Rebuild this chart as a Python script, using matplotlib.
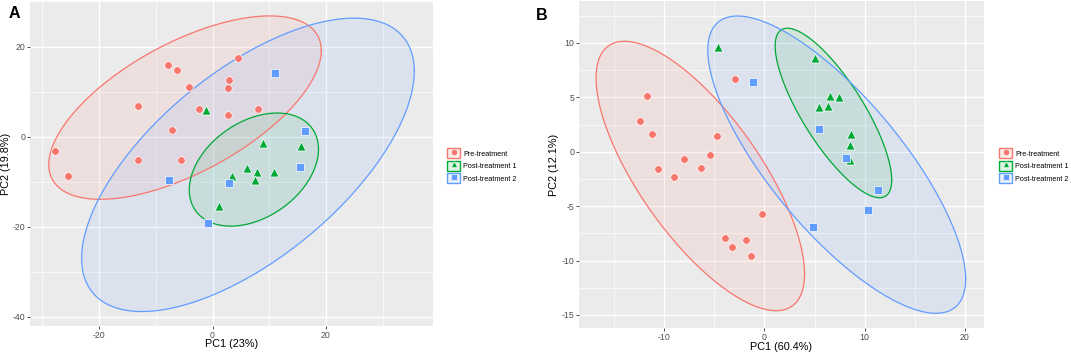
import numpy as np
import matplotlib
matplotlib.use("Agg")
import matplotlib.pyplot as plt
from matplotlib.lines import Line2D
from matplotlib.patches import Rectangle
from matplotlib.ticker import MultipleLocator

plt.rcParams["font.family"] = ["Liberation Sans", "DejaVu Sans"]
plt.rcParams["axes.unicode_minus"] = False

# ---------------- data ----------------
groups = ["Pre-treatment", "Post-treatment 1", "Post-treatment 2"]
colors = ["#F8766D", "#00A835", "#619CFF"]
markers = ["o", "^", "s"]

# Panel A
a_pre_x = [-27.8, -25.5, -7.8, -6.3, 4.5, 2.9, 2.7, -4.1, -13.1, -2.4, 8.1, 2.8, -7.2, -13.1, -5.5]
a_pre_y = [-3.2, -8.7, 16.0, 14.9, 17.4, 12.6, 10.9, 11.1, 6.7, 6.1, 6.1, 4.9, 1.4, -5.2, -5.1]
a_p1_x = [-1.2, 8.9, 15.6, 6.0, 7.8, 10.9, 3.5, 7.5, 1.2]
a_p1_y = [5.9, -1.3, -2.0, -6.9, -7.8, -7.9, -8.7, -9.7, -15.4]
a_p2_x = [11.0, 16.4, 15.4, 2.9, -7.7, -0.8]
a_p2_y = [14.1, 1.3, -6.7, -10.3, -9.5, -19.1]
# ellipses: centre x, centre y, var x, var y, cov xy  (red, green, blue)
a_ell_cx = [-4.85, 7.3, 6.25]
a_ell_cy = [6.45, -7.3, -6.25]
a_ell_sxx = [578.0, 130.0, 861.0]
a_ell_syy = [414.0, 157.5, 1059.0]
a_ell_sxy = [304.0, 51.5, 609.0]

# Panel B
b_pre_x = [-11.7, -12.4, -11.2, -10.6, -9.0, -8.0, -6.3, -5.4, -4.7, -2.9, -0.2, -3.9, -3.2, -1.8, -1.3]
b_pre_y = [5.1, 2.8, 1.6, -1.6, -2.3, -0.7, -1.5, -0.3, 1.4, 6.7, -5.7, -7.9, -8.8, -8.1, -9.6]
b_p1_x = [-4.6, 5.0, 6.5, 7.4, 5.4, 6.3, 8.6, 8.5, 8.5]
b_p1_y = [9.6, 8.6, 5.1, 5.0, 4.1, 4.2, 1.6, 0.6, -0.8]
b_p2_x = [-1.1, 5.4, 4.8, 8.1, 11.3, 10.3]
b_p2_y = [6.4, 2.1, -6.9, -0.6, -3.5, -5.4]
b_ell_cx = [-6.4, 6.88, 7.21]
b_ell_cy = [-2.23, 3.56, -1.19]
b_ell_sxx = [108.2, 33.8, 165.4]
b_ell_syy = [153.3, 60.7, 186.6]
b_ell_sxy = [-93.6, -35.8, -135.2]

W, H = 1071, 354
fig = plt.figure(figsize=(W / 100, H / 100), dpi=100)
fig.patch.set_facecolor("white")


def px_axes(l, r, t, b):
    return fig.add_axes([l / W, (H - b) / H, (r - l) / W, (b - t) / H])


def ellipse_pts(cx, cy, sxx, syy, sxy, n=200):
    t = np.linspace(0, 2 * np.pi, n)
    l11 = np.sqrt(sxx)
    l21 = sxy / l11
    l22 = np.sqrt(syy - l21 ** 2)
    x = cx + l11 * np.cos(t)
    y = cy + l21 * np.cos(t) + l22 * np.sin(t)
    return x, y


def style(ax, xlim, ylim, xmaj, ymaj):
    ax.set_facecolor("#EBEBEB")
    for s in ax.spines.values():
        s.set_visible(False)
    ax.set_xlim(*xlim)
    ax.set_ylim(*ylim)
    ax.xaxis.set_major_locator(MultipleLocator(xmaj))
    ax.xaxis.set_minor_locator(MultipleLocator(xmaj / 2))
    ax.yaxis.set_major_locator(MultipleLocator(ymaj))
    ax.yaxis.set_minor_locator(MultipleLocator(ymaj / 2))
    ax.grid(which="major", color="white", linewidth=1.0)
    ax.grid(which="minor", color="white", linewidth=0.5)
    ax.set_axisbelow(True)
    ax.tick_params(which="major", length=2, width=0.6, color="#333333",
                   labelsize=6.3, labelcolor="#4D4D4D", pad=1.5)
    ax.tick_params(which="minor", length=0)


def draw(ax, xs, ys, ell):
    cxs, cys, sxxs, syys, sxys = ell
    for i in range(3):
        ex, ey = ellipse_pts(cxs[i], cys[i], sxxs[i], syys[i], sxys[i])
        ax.fill(ex, ey, color=colors[i], alpha=0.10, linewidth=0, zorder=2)
    for i in range(3):
        ex, ey = ellipse_pts(cxs[i], cys[i], sxxs[i], syys[i], sxys[i])
        ax.plot(ex, ey, color=colors[i], linewidth=0.9, zorder=3)
    sizes = [30, 42, 30]
    for i in range(3):
        ax.scatter(xs[i], ys[i], s=sizes[i], marker=markers[i], color=colors[i],
                   edgecolors="white", linewidths=0.5, zorder=5)


# Panel A
axA = px_axes(30, 433, 1, 326)
style(axA, (-32.2, 38.9), (-42.0, 30.1), 20, 20)
draw(axA, [a_pre_x, a_p1_x, a_p2_x], [a_pre_y, a_p1_y, a_p2_y],
     (a_ell_cx, a_ell_cy, a_ell_sxx, a_ell_syy, a_ell_sxy))
axA.set_xlabel("PC1 (23%)", fontsize=7.8)
axA.set_ylabel("PC2 (19.8%)", fontsize=7.8)
axA.xaxis.set_label_coords(0.5, -0.041)
axA.yaxis.set_label_coords(-0.048, 0.5)

# Panel B
axB = px_axes(579, 984, 1, 328)
style(axB, (-18.5, 21.9), (-16.2, 13.85), 10, 5)
draw(axB, [b_pre_x, b_p1_x, b_p2_x], [b_pre_y, b_p1_y, b_p2_y],
     (b_ell_cx, b_ell_cy, b_ell_sxx, b_ell_syy, b_ell_sxy))
axB.set_xlabel("PC1 (60.4%)", fontsize=7.8)
axB.set_ylabel("PC2 (12.1%)", fontsize=7.8)
axB.xaxis.set_label_coords(0.5, -0.042)
axB.yaxis.set_label_coords(-0.049, 0.5)

# Panel letters
fig.text(9 / W, 1 - 14 / H, "A", fontsize=11.5, fontweight="bold", va="center", ha="left")
fig.text(536 / W, 1 - 15 / H, "B", fontsize=11.5, fontweight="bold", va="center", ha="left")

# Legends
handles = []
for i in range(3):
    box = Rectangle((0, 0), 1, 1, facecolor=colors[i] + "22", edgecolor=colors[i], linewidth=1.0)
    mk = Line2D([], [], marker=markers[i], color=colors[i], linestyle="none",
                markersize=4.5, markeredgecolor="white", markeredgewidth=0.4)
    handles.append((box, mk))

for xpos in (447, 999):
    fig.legend(handles, groups, loc="center left",
               bbox_to_anchor=(xpos / W, 1 - 165.7 / H),
               frameon=False, fontsize=5.2, handlelength=1.85, handleheight=1.75,
               handletextpad=0.35, labelspacing=0.35, borderpad=0, borderaxespad=0)

fig.savefig("out.png", dpi=100)
